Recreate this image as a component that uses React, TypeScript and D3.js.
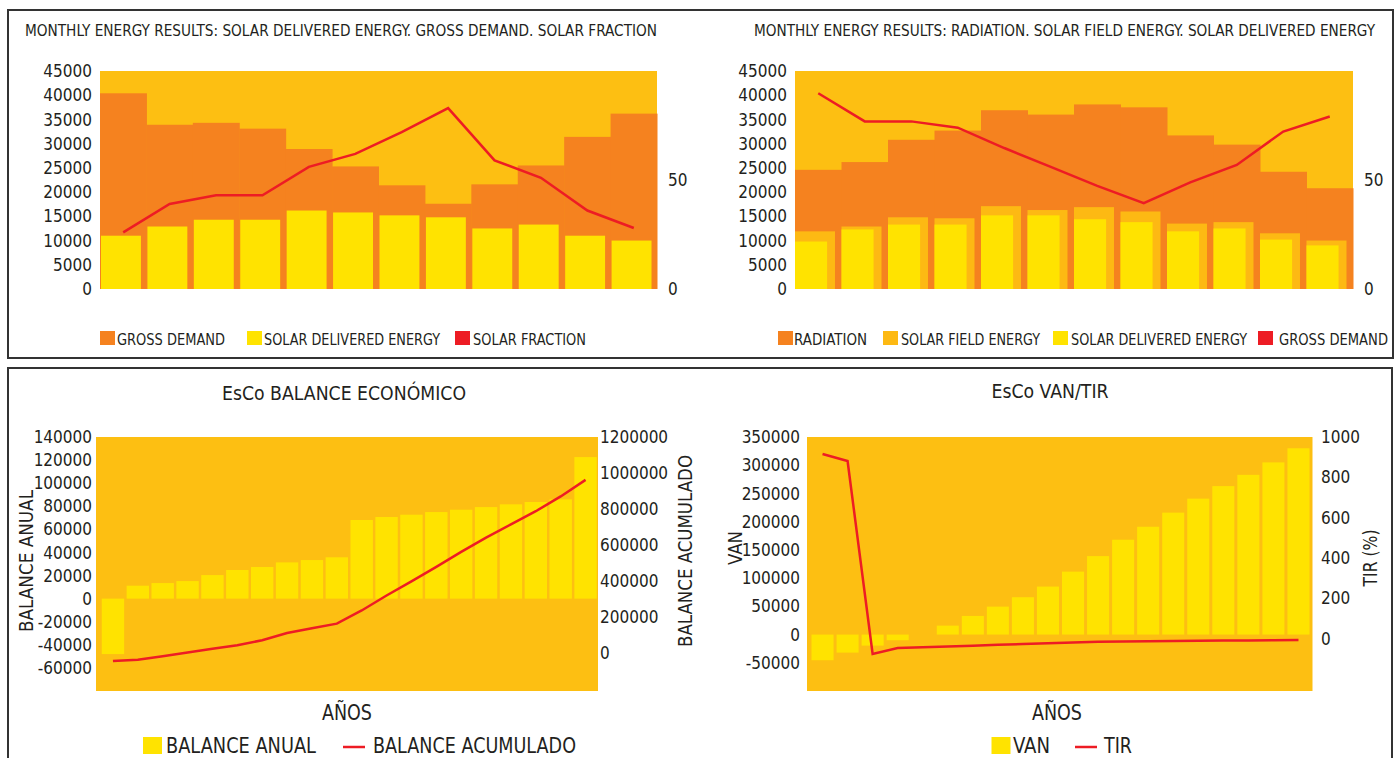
import React from "react";
import * as d3 from "d3";

// ---------- DATA ----------
const months = ["JAN", "FEB", "MAR", "APR", "MAY", "JUN", "JUL", "AUG", "SEP", "OCT", "NOV", "DEC"];
const grossDemand = [40400, 33900, 34300, 33100, 28900, 25300, 21400, 17600, 21600, 25500, 31400, 36200];
const solarDeliveredA = [11000, 12900, 14300, 14300, 16200, 15800, 15200, 14800, 12500, 13300, 11000, 10000];
const solarFraction = [26, 39, 43, 43, 56, 62, 72, 83, 59, 51, 36, 28];

const radiation = [24600, 26200, 30800, 32700, 36900, 36000, 38100, 37500, 31700, 29800, 24200, 20800];
const solarField = [11900, 12900, 14800, 14600, 17100, 16300, 16900, 16000, 13500, 13800, 11500, 10000];
const solarDeliveredB = [9800, 12300, 13300, 13300, 15200, 15200, 14400, 13800, 11900, 12500, 10200, 9000];
const grossDemandLine = [40400, 34600, 34600, 33300, 29100, 25200, 21300, 17700, 22000, 25600, 32500, 35600];

const energyTicks = [0, 5000, 10000, 15000, 20000, 25000, 30000, 35000, 40000, 45000];
const fractionTicks = [0, 50];

const years = d3.range(1, 21).map(String);
const balanceAnual = [-48000, 11200, 13500, 15200, 20400, 24800, 27400, 31400, 33400, 35800, 68100, 70700, 72700, 75000, 77000, 79300, 81700, 83700, 86000, 122600];
const balanceAcumulado = [-44000, -36000, -17000, 4000, 24000, 44000, 72000, 112000, 138000, 164000, 237000, 320000, 399000, 479000, 562000, 641000, 715000, 788000, 870000, 962000];
const anualTicks = [-60000, -40000, -20000, 0, 20000, 40000, 60000, 80000, 100000, 120000, 140000];
const acumTicks = [0, 200000, 400000, 600000, 800000, 1000000, 1200000];

const van = [-45500, -32000, -19600, -10100, 0, 15800, 33000, 49500, 66100, 85000, 111500, 139000, 168000, 191000, 216000, 240800, 263000, 283000, 305000, 330000];
const tir = [916, 881, -76, -47, -43, -39, -35, -31, -27, -23, -19, -16, -14, -13, -12, -11, -10, -9, -8, -7];
const vanTicks = [-50000, 0, 50000, 100000, 150000, 200000, 250000, 300000, 350000];
const tirTicks = [0, 200, 400, 600, 800, 1000];

// ---------- STYLE ----------
const FONT = "'Liberation Sans Narrow', 'DejaVu Sans Condensed', 'Arial Narrow', sans-serif";
const TXT = "#231f20";
const BG = "#fdbf12";
const ORANGE = "#f5821f";
const YELLOW = "#ffe300";
const FIELD = "#fdb913";
const RED = "#ed1c24";
const TICK = 17;

type TxtProps = {
  x: number; y: number; s: string; size: number; anchor?: string; len?: number; rot?: boolean; dy?: string;
};
const T = ({ x, y, s, size, anchor = "start", len, rot, dy }: TxtProps) => (
  <text
    x={x}
    y={y}
    dy={dy}
    fontFamily={FONT}
    fontSize={size}
    fill={TXT}
    textAnchor={anchor}
    textLength={len}
    lengthAdjust={len ? "spacingAndGlyphs" : undefined}
    transform={rot ? `rotate(-90 ${x} ${y})` : undefined}
  >
    {s}
  </text>
);

function fmt(v: number) {
  return String(v);
}

// ---------- TOP LEFT ----------
function TopLeft() {
  const x = d3.scaleBand().domain(months).range([100, 657]).padding(0);
  const y = d3.scaleLinear().domain([0, 45000]).range([289, 71]);
  const yr = d3.scaleLinear().domain([0, 100]).range([289, 71]);
  const bw = x.bandwidth();
  const line = d3
    .line<number>()
    .x((_, i) => (x(months[i]) as number) + bw / 2)
    .y((d) => yr(d));
  return (
    <g>
      <T x={25} y={36} s="MONTHLY ENERGY RESULTS: SOLAR DELIVERED ENERGY. GROSS DEMAND. SOLAR FRACTION" size={15} len={632} />
      <rect x={100} y={71} width={557} height={218} fill={BG} />
      {grossDemand.map((v, i) => (
        <rect key={"g" + i} x={x(months[i])} y={y(v)} width={bw + 0.5} height={y(0) - y(v)} fill={ORANGE} />
      ))}
      {solarDeliveredA.map((v, i) => (
        <rect key={"s" + i} x={(x(months[i]) as number) + 1} y={y(v)} width={bw * 0.86} height={y(0) - y(v)} fill={YELLOW} />
      ))}
      <path d={line(solarFraction) || ""} fill="none" stroke={RED} strokeWidth={2.5} />
      {energyTicks.map((t) => (
        <T key={t} x={92} y={y(t)} dy="0.36em" s={fmt(t)} size={TICK} anchor="end" />
      ))}
      {fractionTicks.map((t) => (
        <T key={t} x={668} y={yr(t)} dy="0.36em" s={fmt(t)} size={TICK} />
      ))}
      <rect x={100} y={331} width={15} height={14} fill={ORANGE} />
      <T x={117} y={344.5} s="GROSS DEMAND" size={15} len={108} />
      <rect x={247} y={331} width={15} height={14} fill={YELLOW} />
      <T x={264} y={344.5} s="SOLAR DELIVERED ENERGY" size={15} len={176} />
      <rect x={455} y={331} width={15} height={14} fill={RED} />
      <T x={473} y={344.5} s="SOLAR FRACTION" size={15} len={113} />
    </g>
  );
}

// ---------- TOP RIGHT ----------
function TopRight() {
  const x = d3.scaleBand().domain(months).range([795, 1353]).padding(0);
  const y = d3.scaleLinear().domain([0, 45000]).range([289, 71]);
  const yr = d3.scaleLinear().domain([0, 100]).range([289, 71]);
  const bw = x.bandwidth();
  const line = d3
    .line<number>()
    .x((_, i) => (x(months[i]) as number) + bw / 2)
    .y((d) => y(d));
  return (
    <g>
      <T x={754} y={36} s="MONTHLY ENERGY RESULTS: RADIATION. SOLAR FIELD ENERGY. SOLAR DELIVERED ENERGY" size={15} len={621} />
      <rect x={795} y={71} width={558} height={218} fill={BG} />
      {radiation.map((v, i) => (
        <rect key={"r" + i} x={x(months[i])} y={y(v)} width={bw + 0.5} height={y(0) - y(v)} fill={ORANGE} />
      ))}
      {solarField.map((v, i) => (
        <rect key={"f" + i} x={x(months[i])} y={y(v)} width={bw * 0.86} height={y(0) - y(v)} fill={FIELD} />
      ))}
      {solarDeliveredB.map((v, i) => (
        <rect key={"s" + i} x={x(months[i])} y={y(v)} width={bw * 0.69} height={y(0) - y(v)} fill={YELLOW} />
      ))}
      <path d={line(grossDemandLine) || ""} fill="none" stroke={RED} strokeWidth={2.5} />
      {energyTicks.map((t) => (
        <T key={t} x={787} y={y(t)} dy="0.36em" s={fmt(t)} size={TICK} anchor="end" />
      ))}
      {fractionTicks.map((t) => (
        <T key={t} x={1364} y={yr(t)} dy="0.36em" s={fmt(t)} size={TICK} />
      ))}
      <rect x={778} y={331} width={15} height={14} fill={ORANGE} />
      <T x={794} y={344.5} s="RADIATION" size={15} len={73} />
      <rect x={883} y={331} width={15} height={14} fill={FIELD} />
      <T x={901} y={344.5} s="SOLAR FIELD ENERGY" size={15} len={139} />
      <rect x={1053} y={331} width={15} height={14} fill={YELLOW} />
      <T x={1071} y={344.5} s="SOLAR DELIVERED ENERGY" size={15} len={176} />
      <rect x={1258} y={331} width={15} height={14} fill={RED} />
      <T x={1279} y={344.5} s="GROSS DEMAND" size={15} len={109} />
    </g>
  );
}

// ---------- BOTTOM LEFT ----------
function BottomLeft() {
  const x = d3.scaleBand().domain(years).range([100.5, 598]).paddingInner(0.1).paddingOuter(0.05);
  const y = d3.scaleLinear().domain([-80000, 140000]).range([691, 437]);
  const yr = d3.scaleLinear().domain([-210000, 1200000]).range([691, 437]);
  const bw = x.bandwidth();
  const line = d3
    .line<number>()
    .x((_, i) => (x(years[i]) as number) + bw / 2)
    .y((d) => yr(d));
  return (
    <g>
      <T x={344} y={400} s="EsCo BALANCE ECONÓMICO" size={20} anchor="middle" len={244} />
      <rect x={96} y={437} width={502} height={254} fill={BG} />
      {balanceAnual.map((v, i) => (
        <rect
          key={i}
          x={x(years[i])}
          y={Math.min(y(v), y(0))}
          width={bw}
          height={Math.abs(y(v) - y(0))}
          fill={YELLOW}
        />
      ))}
      <path d={line(balanceAcumulado) || ""} fill="none" stroke={RED} strokeWidth={2.5} />
      {anualTicks.map((t) => (
        <T key={t} x={92} y={y(t)} dy="0.36em" s={fmt(t)} size={TICK} anchor="end" />
      ))}
      {acumTicks.map((t) => (
        <T key={t} x={600} y={yr(t)} dy="0.36em" s={fmt(t)} size={TICK} />
      ))}
      <T x={33} y={561} s="BALANCE ANUAL" size={20} anchor="middle" rot len={142} />
      <T x={692} y={551} s="BALANCE ACUMULADO" size={20} anchor="middle" rot len={192} />
      <T x={347} y={720} s="AÑOS" size={21} anchor="middle" len={50} />
      <rect x={143} y={737} width={19} height={17} fill={YELLOW} />
      <T x={166} y={753} s="BALANCE ANUAL" size={21} len={150} />
      <line x1={343} x2={365} y1={747} y2={747} stroke={RED} strokeWidth={2.5} />
      <T x={373} y={753} s="BALANCE ACUMULADO" size={21} len={203} />
    </g>
  );
}

// ---------- BOTTOM RIGHT ----------
function BottomRight() {
  const x = d3.scaleBand().domain(years).range([810, 1311]).paddingInner(0.12).paddingOuter(0.06);
  const y = d3.scaleLinear().domain([-100000, 350000]).range([691, 437]);
  const yr = d3.scaleLinear().domain([-260, 1000]).range([691, 437]);
  const bw = x.bandwidth();
  const line = d3
    .line<number>()
    .x((_, i) => (x(years[i]) as number) + bw / 2)
    .y((d) => yr(d));
  return (
    <g>
      <T x={1050} y={398} s="EsCo VAN/TIR" size={20} anchor="middle" len={117} />
      <rect x={807} y={437} width={505.5} height={254} fill={BG} />
      {van.map((v, i) => (
        <rect
          key={i}
          x={x(years[i])}
          y={Math.min(y(v), y(0))}
          width={bw}
          height={Math.abs(y(v) - y(0))}
          fill={YELLOW}
        />
      ))}
      <path d={line(tir) || ""} fill="none" stroke={RED} strokeWidth={2.5} />
      {vanTicks.map((t) => (
        <T key={t} x={800} y={y(t)} dy="0.36em" s={fmt(t)} size={TICK} anchor="end" />
      ))}
      {tirTicks.map((t) => (
        <T key={t} x={1321} y={yr(t)} dy="0.36em" s={fmt(t)} size={TICK} />
      ))}
      <T x={742} y={548} s="VAN" size={20} anchor="middle" rot len={34} />
      <T x={1377} y={558} s="TIR (%)" size={20} anchor="middle" rot len={57} />
      <T x={1057} y={720} s="AÑOS" size={21} anchor="middle" len={50} />
      <rect x={991.5} y={737} width={19} height={17} fill={YELLOW} />
      <T x={1013} y={753} s="VAN" size={21} len={37} />
      <line x1={1075} x2={1097} y1={747} y2={747} stroke={RED} strokeWidth={2.5} />
      <T x={1104} y={753} s="TIR" size={21} len={28} />
    </g>
  );
}

export default function App() {
  return (
    <div style={{ position: "fixed", left: 0, top: 0, width: 1399, height: 758, background: "#fff", overflow: "hidden" }}>
      <svg width={1399} height={758} style={{ display: "block" }}>
        <rect x={0} y={0} width={1399} height={758} fill="#fff" />
        <rect x={8} y={10} width={1385} height={348} fill="none" stroke="#333" strokeWidth={2} />
        <rect x={8} y={368} width={1384} height={420} fill="none" stroke="#333" strokeWidth={2} />
        <TopLeft />
        <TopRight />
        <BottomLeft />
        <BottomRight />
      </svg>
    </div>
  );
}
